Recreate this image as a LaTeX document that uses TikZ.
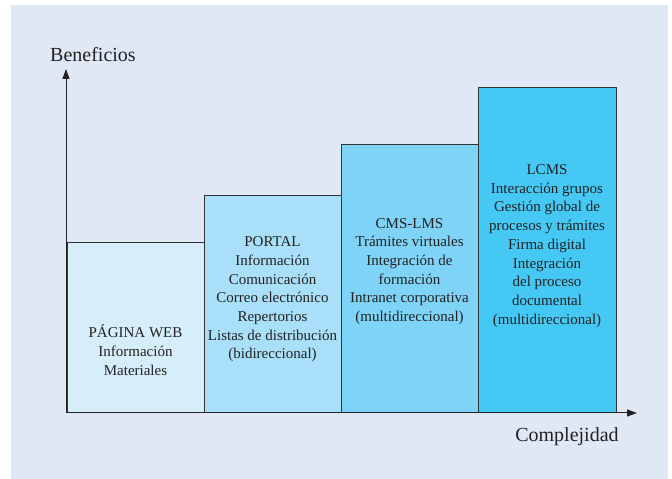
\documentclass[tikz,border=0pt]{standalone}
\usepackage{fontspec}
\setmainfont{Liberation Serif}
\usetikzlibrary{arrows.meta}
\definecolor{bgc}{HTML}{E0E7F5}
\definecolor{c1}{HTML}{D5EEFA}
\definecolor{c2}{HTML}{A9DFF8}
\definecolor{c3}{HTML}{7ED3F6}
\definecolor{c4}{HTML}{45C8F3}
\definecolor{ink}{HTML}{222222}
\definecolor{edge}{HTML}{333333}
\tikzset{
  bar/.style={draw=edge, line width=1.2pt, anchor=south west, inner sep=0pt},
  bartext/.style={align=center, text=ink, font=\fontsize{15}{18.7}\selectfont, inner sep=0pt},
  axlabel/.style={text=ink, font=\fontsize{20}{23}\selectfont, inner sep=0pt},
  axis/.style={draw=ink, line width=1pt, -{Triangle[length=10pt,width=7pt]}}
}
\begin{document}
\begin{tikzpicture}[x=1pt,y=1pt]
\useasboundingbox (0,0) rectangle (672,479);
\fill[bgc] (11,0) rectangle (668,474);
% bars
\node[bar, fill=c1, minimum width=137pt, minimum height=170pt] (b1) at (67,66) {};
\node[bar, fill=c2, minimum width=137pt, minimum height=217pt] (b2) at (204,66) {};
\node[bar, fill=c3, minimum width=137pt, minimum height=268pt] (b3) at (341,66) {};
\node[bar, fill=c4, minimum width=138pt, minimum height=325pt] (b4) at (478,66) {};
% texts
\node[bartext] (t1) at (135.5,129) {PÁGINA WEB\\Información\\Materiales};
\node[bartext] (t2) at (272.5,179.5) {PORTAL\\Información\\Comunicación\\Correo electrónico\\Repertorios\\Listas de distribución\\(bidireccional)};
\node[bartext] (t3) at (409.5,207.5) {CMS-LMS\\Trámites virtuales\\Integración de\\formación\\Intranet corporativa\\(multidireccional)};
\node[bartext] (t4) at (547,233) {LCMS\\Interacción grupos\\Gestión global de\\procesos y trámites\\Firma digital\\Integración\\del proceso\\documental\\(multidireccional)};
% axes
\coordinate (o) at (66,66);
\coordinate (ytip) at (66,410);
\coordinate (xtip) at (637,66);
\draw[axis] (o) -- (ytip);
\draw[axis] (o) -- (xtip);
\node[axlabel] (yl) at (93,424) {Beneficios};
\node[axlabel] (xl) at (567,42) {Complejidad};
\end{tikzpicture}
\end{document}
